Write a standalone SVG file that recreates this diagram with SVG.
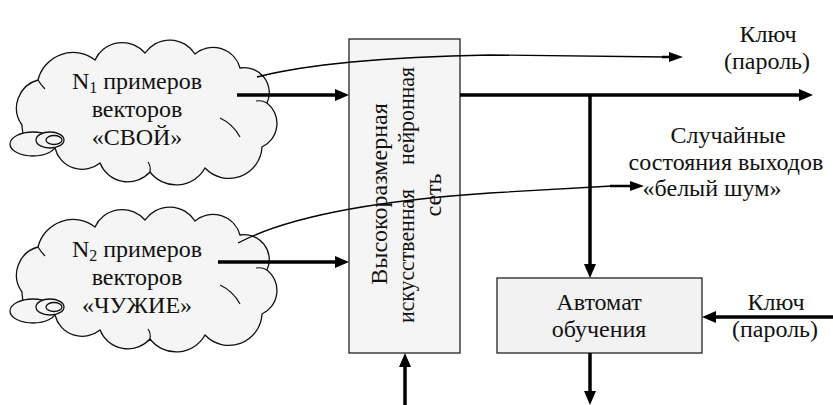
<svg xmlns="http://www.w3.org/2000/svg" width="833" height="405" viewBox="0 0 833 405">
<style>
text{font-family:"Liberation Serif","Times New Roman",serif;font-size:24px;fill:#111;}
.c{text-anchor:middle;}
.cloud{fill:#f5f5f5;stroke:#111;stroke-width:1.3;}
.inner{fill:none;stroke:#111;stroke-width:1.2;}
.box{fill:#f5f5f5;stroke:#222;stroke-width:1.3;}
.thick{fill:none;stroke:#000;stroke-width:3.5;}
.thin{fill:none;stroke:#000;stroke-width:1.3;}
.head{fill:#000;stroke:none;}
</style>
<defs>
<path id="cloudShape" d="M38,80 A36,36 0 0 1 95,60 A30,30 0 0 1 145,53 A30,30 0 0 1 195,54 A28,28 0 0 1 240,68 A25,25 0 0 1 267,103 A26,26 0 0 1 262,147 A33,33 0 0 1 205,168 A33,33 0 0 1 150,172 A30,30 0 0 1 100,163 A28,28 0 0 1 55,148 A24,24 0 0 1 22,125 A29,29 0 0 1 38,80 Z"/>
<g id="cloudDetail">
<path class="inner" d="M38,80 q3,5 7,9"/>
<path class="inner" d="M267,103 q-5,-3 -11,-2"/>
<path class="inner" d="M240,137 q-7,-13 -20,-19"/>
<path class="inner" d="M150,172 q1,-6 -2,-10"/>
<path class="inner" d="M55,148 q-9,-4 -18,-3"/>
<ellipse cx="33" cy="144" rx="23" ry="12" class="cloud"/>
<ellipse cx="50" cy="140" rx="14" ry="8" class="cloud"/>
<ellipse cx="54" cy="140" rx="8" ry="4.5" class="cloud"/>
</g>
</defs>
<g id="cloud1">
<use href="#cloudShape" class="cloud"/>
<use href="#cloudDetail"/>
<text class="c" x="137" y="89">N<tspan font-size="16" dy="4">1</tspan><tspan dy="-4"> примеров</tspan></text>
<text class="c" x="137" y="117">векторов</text>
<text class="c" x="137" y="145">«СВОЙ»</text>
</g>
<g id="cloud2" transform="translate(0,167)">
<use href="#cloudShape" class="cloud"/>
<use href="#cloudDetail"/>
<text class="c" x="137" y="90">N<tspan font-size="16" dy="4">2</tspan><tspan dy="-4"> примеров</tspan></text>
<text class="c" x="137" y="118">векторов</text>
<text class="c" x="137" y="146">«ЧУЖИЕ»</text>
</g>
<g id="network">
<rect class="box" x="349" y="39" width="111" height="314"/>
<text class="c" transform="translate(387,194) rotate(-90)">Высокоразмерная</text>
<g transform="translate(414,195) rotate(-90)">
<text x="-128" textLength="134" lengthAdjust="spacingAndGlyphs">искусственная</text>
<text x="30" textLength="98" lengthAdjust="spacingAndGlyphs">нейронная</text>
</g>
<text class="c" transform="translate(441,195) rotate(-90)">сеть</text>
</g>
<g id="automat">
<rect class="box" x="497" y="278" width="205" height="75" style="fill:#f2f2f2"/>
<text class="c" x="599" y="310">Автомат</text>
<text class="c" x="599" y="337">обучения</text>
</g>
<g id="labels">
<text class="c" x="768" y="42">Ключ</text>
<text class="c" x="767" y="69">(пароль)</text>
<text class="c" x="728" y="143">Случайные</text>
<text class="c" x="726" y="170">состояния выходов</text>
<text class="c" x="712" y="196">«белый шум»</text>
<text class="c" x="776" y="310">Ключ</text>
<text class="c" x="775" y="337">(пароль)</text>
</g>
<g id="connectors">
<path class="thick" d="M237,95 H336"/>
<polygon class="head" points="349,95 335,89 335,101"/>
<path class="thick" d="M218,262 H336"/>
<polygon class="head" points="349,262 335,256 335,268"/>
<path class="thick" d="M405,405 V366"/>
<polygon class="head" points="405,353 399,367 411,367"/>
<path class="thick" d="M460,95 H800"/>
<polygon class="head" points="813,95 799,89 799,101"/>
<path class="thick" d="M590,95 V265"/>
<polygon class="head" points="590,278 584,264 596,264"/>
<path class="thick" d="M590,353 V392"/>
<polygon class="head" points="590,405 584,391 596,391"/>
<path class="thick" d="M833,317 H715"/>
<polygon class="head" points="702,317 716,311 716,323"/>
<path class="thin" d="M257,77 Q330,58 490,55 L665,57"/>
<path class="thick" style="stroke-width:2.5" d="M662,57 H672"/>
<polygon class="head" points="683,57 669,52 669,62"/>
<path class="thin" d="M238,243 Q310,205 490,193 L612,186"/>
<path class="thick" style="stroke-width:2.5" d="M610,186 H633"/>
<polygon class="head" points="644,186 630,181 630,191"/>
</g>
</svg>
